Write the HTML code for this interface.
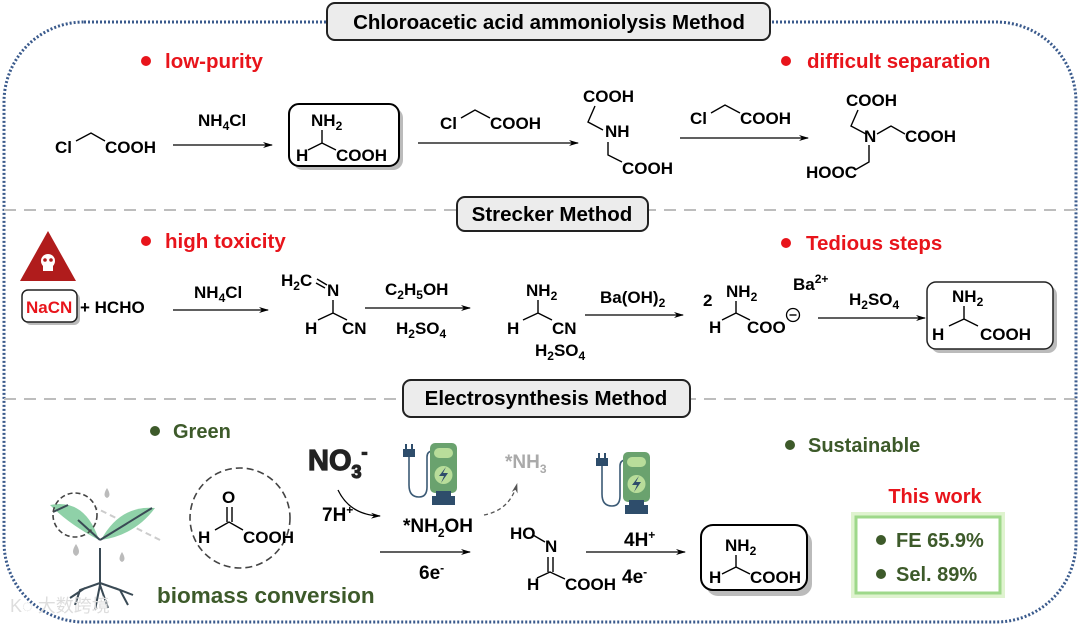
<!DOCTYPE html>
<html><head><meta charset="utf-8">
<style>
html,body{margin:0;padding:0;background:#fff;}
svg{display:block;font-family:"Liberation Sans",Arial,sans-serif;}
.c{font-size:17px;font-weight:bold;fill:#000;}
.s{font-size:12px;}
.b{stroke:#000;stroke-width:1.4;fill:none;}
.ar{stroke:#000;stroke-width:1.3;fill:none;marker-end:url(#ah);}
.red{font-size:20.5px;font-weight:bold;fill:#e8141b;}
.grn{font-size:20px;font-weight:bold;fill:#3d5a2a;}
.tt{font-size:20.5px;font-weight:bold;fill:#000;text-anchor:middle;}
</style></head><body>
<svg width="1080" height="626" viewBox="0 0 1080 626" xmlns="http://www.w3.org/2000/svg">
<defs>
<marker id="ah" markerWidth="10" markerHeight="8" refX="9" refY="4" orient="auto" markerUnits="userSpaceOnUse"><path d="M0,1 L10,4 L0,7 L3,4Z" fill="#000"/></marker>
<marker id="ahg" markerWidth="10" markerHeight="8" refX="9" refY="4" orient="auto" markerUnits="userSpaceOnUse"><path d="M0,1 L10,4 L0,7 L3,4Z" fill="#555"/></marker>
<g id="chg">
<path d="M6,12 v30 q0,12 10,12 q8,0 8,-10 v-30 q0,-6 6,-6" stroke="#3b5a75" stroke-width="1.6" fill="none"/>
<rect x="0" y="6" width="12" height="8" fill="#2e4d6b"/><rect x="2" y="1" width="2" height="6" fill="#2e4d6b"/><rect x="8" y="1" width="2" height="6" fill="#2e4d6b"/>
<rect x="27" y="0" width="27" height="50" rx="5" fill="#6aa26e"/>
<rect x="31" y="5" width="19" height="10" rx="5" fill="#b8dd9a"/>
<circle cx="40.5" cy="32" r="9" fill="#b8dd9a"/>
<path d="M43,24 L36,33 L41,33 L38,40 L45,30 L40,30Z" fill="#2e4d6b"/>
<rect x="33" y="48" width="15" height="6" fill="#2e4d6b"/><rect x="29" y="53" width="23" height="9" fill="#2e4d6b"/>
</g>
</defs>

<rect x="4" y="22" width="1072" height="600" rx="80" fill="none" stroke="#3a5a8c" stroke-width="3" stroke-dasharray="2 2"/>
<line x1="4" y1="210" x2="1076" y2="210" stroke="#bdbdbd" stroke-width="2" stroke-dasharray="12 8"/>
<line x1="4" y1="399" x2="1076" y2="399" stroke="#bdbdbd" stroke-width="2" stroke-dasharray="12 8"/>

<rect x="327" y="3" width="443" height="37" rx="8" fill="#ececec" stroke="#222" stroke-width="2"/>
<text x="549" y="29" class="tt">Chloroacetic acid ammoniolysis Method</text>
<rect x="457" y="197" width="191" height="34" rx="8" fill="#ececec" stroke="#222" stroke-width="2"/>
<text x="552" y="221" class="tt">Strecker Method</text>
<rect x="403" y="380" width="287" height="37" rx="8" fill="#ececec" stroke="#222" stroke-width="2"/>
<text x="546" y="405" class="tt">Electrosynthesis Method</text>

<circle cx="146" cy="61" r="5" fill="#e8141b"/><text x="165" y="68" class="red">low-purity</text>
<circle cx="786" cy="61" r="5" fill="#e8141b"/><text x="807" y="68" class="red">difficult separation</text>
<circle cx="146" cy="241" r="5" fill="#e8141b"/><text x="165" y="248" class="red">high toxicity</text>
<circle cx="786" cy="243" r="5" fill="#e8141b"/><text x="806" y="250" class="red">Tedious steps</text>
<circle cx="155" cy="431" r="5" fill="#3d5a2a"/><text x="173" y="438" class="grn">Green</text>
<circle cx="790" cy="445" r="5" fill="#3d5a2a"/><text x="808" y="452" class="grn">Sustainable</text>

<text x="55" y="153" class="c">Cl</text><path d="M76,141 L91,133 L105,141" class="b"/><text x="105" y="153" class="c">COOH</text>
<line x1="173" y1="145" x2="272" y2="145" class="ar"/>
<text x="198" y="126" class="c">NH<tspan class="s" dy="4">4</tspan><tspan dy="-4">Cl</tspan></text>
<rect x="293" y="108" width="110" height="62" rx="10" fill="#bbb"/>
<rect x="289" y="104" width="110" height="62" rx="10" fill="#fff" stroke="#000" stroke-width="2"/>
<text x="311" y="126" class="c">NH<tspan class="s" dy="4">2</tspan></text>
<path d="M322,130 V143 M308,150 L322,143 L336,150" class="b"/>
<text x="296" y="161" class="c">H</text><text x="336" y="161" class="c">COOH</text>
<line x1="418" y1="143" x2="578" y2="143" class="ar"/>
<text x="440" y="129" class="c">Cl</text><path d="M461,118 L475,110 L490,118" class="b"/><text x="490" y="129" class="c">COOH</text>
<text x="583" y="102" class="c">COOH</text><path d="M595,106 L588,122 L603,130" class="b"/>
<text x="605" y="137" class="c">NH</text><path d="M608,142 L608,155 L622,162" class="b"/>
<text x="622" y="174" class="c">COOH</text>
<line x1="680" y1="138" x2="808" y2="138" class="ar"/>
<text x="690" y="124" class="c">Cl</text><path d="M711,113 L725,105 L740,113" class="b"/><text x="740" y="124" class="c">COOH</text>
<text x="846" y="106" class="c">COOH</text><path d="M858,110 L851,126 L866,134" class="b"/>
<text x="864" y="142" class="c">N</text><path d="M877,134 L891,126 L905,134" class="b"/><text x="905" y="142" class="c">COOH</text>
<path d="M869,145 L869,162 L855,170" class="b"/><text x="806" y="178" class="c">HOOC</text>

<path d="M48,231 L76,281 L20,281Z" fill="#b01c1c"/>
<circle cx="48" cy="261" r="7" fill="#fff"/><rect x="43" y="264" width="10" height="7" fill="#fff"/>
<circle cx="45" cy="260" r="1.8" fill="#b01c1c"/><circle cx="51" cy="260" r="1.8" fill="#b01c1c"/>
<rect x="25" y="293" width="55" height="32" rx="6" fill="#bbb"/>
<rect x="22" y="290" width="55" height="32" rx="6" fill="#fff" stroke="#222" stroke-width="1.5"/>
<text x="26" y="313" style="font-size:17px;font-weight:bold;fill:#e8141b">NaCN</text>
<text x="80" y="313" class="c">+  HCHO</text>
<line x1="173" y1="310" x2="268" y2="310" class="ar"/>
<text x="194" y="298" class="c">NH<tspan class="s" dy="4">4</tspan><tspan dy="-4">Cl</tspan></text>
<text x="281" y="286" class="c">H<tspan class="s" dy="4">2</tspan><tspan dy="-4">C</tspan></text>
<path d="M317,279 L327,285 M316,283 L325,288" class="b" stroke-width="1.1"/>
<text x="327" y="296" class="c">N</text>
<path d="M333,300 V313 M318,320 L333,313 L347,320" class="b"/>
<text x="305" y="334" class="c">H</text><text x="342" y="334" class="c">CN</text>
<line x1="365" y1="308" x2="470" y2="308" class="ar"/>
<text x="385" y="295" class="c">C<tspan class="s" dy="4">2</tspan><tspan dy="-4">H</tspan><tspan class="s" dy="4">5</tspan><tspan dy="-4">OH</tspan></text>
<text x="396" y="334" class="c">H<tspan class="s" dy="4">2</tspan><tspan dy="-4">SO</tspan><tspan class="s" dy="4">4</tspan></text>
<text x="526" y="296" class="c">NH<tspan class="s" dy="4">2</tspan></text>
<path d="M538,300 V313 M523,320 L538,313 L552,320" class="b"/>
<text x="507" y="334" class="c">H</text><text x="552" y="334" class="c">CN</text>
<text x="535" y="356" class="c">H<tspan class="s" dy="4">2</tspan><tspan dy="-4">SO</tspan><tspan class="s" dy="4">4</tspan></text>
<line x1="585" y1="315" x2="683" y2="315" class="ar"/>
<text x="600" y="303" class="c">Ba(OH)<tspan class="s" dy="4">2</tspan></text>
<text x="703" y="306" class="c">2</text>
<text x="726" y="297" class="c">NH<tspan class="s" dy="4">2</tspan></text>
<path d="M736,301 V313 M722,320 L736,313 L750,320" class="b"/>
<text x="709" y="333" class="c">H</text><text x="747" y="333" class="c">COO</text>
<circle cx="793" cy="315" r="6.5" fill="none" stroke="#000" stroke-width="1.3"/><line x1="789.5" y1="315" x2="796.5" y2="315" stroke="#000" stroke-width="1.4"/>
<text x="793" y="290" class="c">Ba<tspan class="s" dy="-7">2+</tspan></text>
<line x1="818" y1="318" x2="925" y2="318" class="ar"/>
<text x="849" y="305" class="c">H<tspan class="s" dy="4">2</tspan><tspan dy="-4">SO</tspan><tspan class="s" dy="4">4</tspan></text>
<rect x="931" y="286" width="126" height="67" rx="9" fill="#bbb"/>
<rect x="927" y="282" width="126" height="67" rx="9" fill="#fff" stroke="#222" stroke-width="1.5"/>
<text x="952" y="302" class="c">NH<tspan class="s" dy="4">2</tspan></text>
<path d="M964,306 V319 M949,326 L964,319 L978,326" class="b"/>
<text x="932" y="340" class="c">H</text><text x="980" y="340" class="c">COOH</text>

<g>
<line x1="160" y1="540" x2="96" y2="508" stroke="#ccc" stroke-width="2" stroke-dasharray="6 4"/>
<path d="M99,540 Q70,525 50,505 Q85,498 99,540Z" fill="#8fd1a8"/>
<path d="M101,540 Q120,505 155,508 Q135,535 101,540Z" fill="#8fd1a8"/>
<path d="M100,548 L100,585 M100,540 L78,520 M100,540 L152,508 M53,512 L68,505" stroke="#3a4a55" stroke-width="2" fill="none"/>
<path d="M100,583 L80,590 L75,605 M100,583 L120,590 L128,605 M100,585 L95,610 M100,585 L108,608 M85,588 L70,598 M115,588 L133,595" stroke="#3a4a55" stroke-width="2" fill="none"/>
<circle cx="75" cy="515" r="22" fill="none" stroke="#444" stroke-width="1.6" stroke-dasharray="5 3"/>
<path d="M107,488 q-5,8 0,10 q5,-2 0,-10Z M76,544 q-6,9 0,12 q6,-3 0,-12Z M122,552 q-5,8 0,10 q5,-2 0,-10Z" fill="#bbb"/>
</g>
<text x="10" y="612" style="font-size:18px;fill:#ddd;font-family:'Liberation Sans','Noto Sans CJK SC',sans-serif">K◌ 大数跨境</text>
<text x="157" y="603" style="font-size:22.5px;font-weight:bold;fill:#3d5a2a">biomass conversion</text>
<circle cx="240" cy="518" r="50" fill="none" stroke="#444" stroke-width="1.6" stroke-dasharray="7 4"/>
<text x="222" y="503" class="c">O</text>
<path d="M227,507 V522 M232,507 V522 M215,530 L229,522 L243,530" class="b"/>
<text x="198" y="543" class="c">H</text><text x="243" y="543" class="c">COOH</text>

<text x="308" y="470" style="font-size:29px;font-weight:900;fill:#222;stroke:#222;stroke-width:1.2">NO<tspan style="font-size:18px" dy="8">3</tspan><tspan style="font-size:18px" dy="-20">-</tspan></text>
<text x="322" y="521" style="font-size:19px;font-weight:bold">7H<tspan class="s" dy="-7">+</tspan></text>
<path d="M338,490 Q350,515 380,516" class="ar"/>
<use href="#chg" x="403" y="443"/>
<text x="505" y="468" style="font-size:19px;font-weight:bold;fill:#aaa">*NH<tspan style="font-size:12px" dy="5">3</tspan></text>
<path d="M484,515 Q510,510 517,484" stroke="#555" stroke-width="1.3" fill="none" stroke-dasharray="4 3" marker-end="url(#ahg)"/>
<text x="403" y="532" style="font-size:19px;font-weight:bold">*NH<tspan style="font-size:12px" dy="5">2</tspan><tspan dy="-5">OH</tspan></text>
<line x1="380" y1="552" x2="470" y2="552" class="ar"/>
<text x="419" y="579" style="font-size:19px;font-weight:bold">6e<tspan class="s" dy="-7">-</tspan></text>
<text x="510" y="539" class="c">HO</text><path d="M533,535 L545,542" class="b"/>
<text x="545" y="552" class="c">N</text>
<path d="M548,557 V572 M553,557 V572 M537,578 L550,572 L565,579" class="b"/>
<text x="527" y="590" class="c">H</text><text x="565" y="590" class="c">COOH</text>
<use href="#chg" x="596" y="452"/>
<text x="624" y="546" style="font-size:19px;font-weight:bold">4H<tspan class="s" dy="-7">+</tspan></text>
<line x1="586" y1="552" x2="685" y2="552" class="ar"/>
<text x="622" y="583" style="font-size:19px;font-weight:bold">4e<tspan class="s" dy="-7">-</tspan></text>
<rect x="706" y="531" width="106" height="65" rx="12" fill="#bbb"/>
<rect x="701" y="525" width="106" height="65" rx="12" fill="#fff" stroke="#000" stroke-width="2"/>
<text x="725" y="551" class="c">NH<tspan class="s" dy="4">2</tspan></text>
<path d="M736,555 V567 M722,574 L736,567 L750,574" class="b"/>
<text x="709" y="583" class="c">H</text><text x="750" y="583" class="c">COOH</text>
<text x="935" y="503" style="font-size:20px;font-weight:bold;fill:#e8141b;text-anchor:middle">This work</text>
<rect x="855" y="516" width="146" height="78" fill="#fff" stroke="#dff3cf" stroke-width="8"/>
<rect x="856" y="517" width="144" height="76" fill="#fff" stroke="#9ed88a" stroke-width="3"/>
<circle cx="881" cy="540" r="5" fill="#3d5a2a"/><text x="896" y="547" class="grn">FE 65.9%</text>
<circle cx="881" cy="574" r="5" fill="#3d5a2a"/><text x="896" y="581" class="grn">Sel. 89%</text>
</svg>
</body></html>
